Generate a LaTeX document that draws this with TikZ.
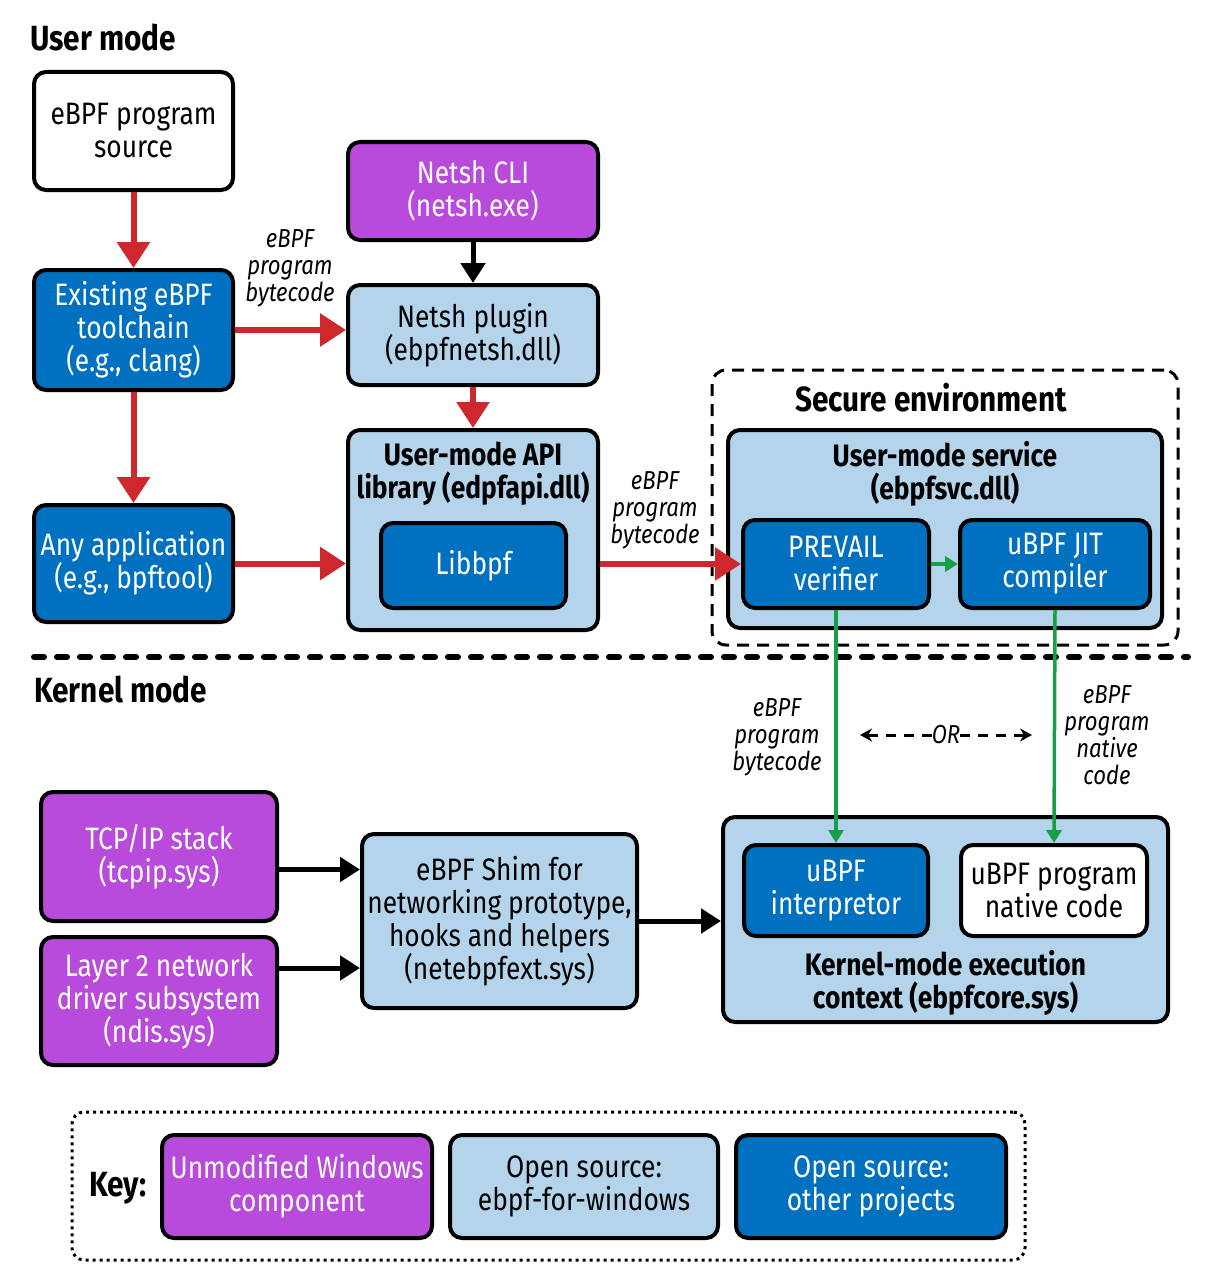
\documentclass[tikz,border=0pt]{standalone}
\usepackage{fontspec}
\setmainfont{Fira Sans}[FakeStretch=0.85]
\usetikzlibrary{arrows.meta}
\definecolor{winpurple}{RGB}{184,75,219}
\definecolor{osdark}{RGB}{0,112,192}
\definecolor{oslight}{RGB}{180,212,236}
\definecolor{flowred}{RGB}{206,40,46}
\definecolor{flowgreen}{RGB}{22,158,72}
\begin{document}
\begin{tikzpicture}[x=1pt,y=-1pt,
  box/.style={draw,line width=4pt,rounded corners=12pt,align=center,inner sep=0pt,font=\fontsize{31}{33}\selectfont},
  winbox/.style={box,fill=winpurple,text=white},
  lightbox/.style={box,fill=oslight},
  darkbox/.style={box,fill=osdark,text=white},
  plainbox/.style={box,fill=white},
  boxtitle/.style={align=center,inner sep=0pt,font=\bfseries\fontsize{31}{33}\selectfont},
  heading/.style={inner sep=0pt,font=\bfseries\fontsize{35}{37}\selectfont},
  flowlabel/.style={align=center,inner sep=0pt,font=\itshape\fontsize{26}{27}\selectfont},
  redarrow/.style={draw=flowred,line width=6pt,-{Triangle[length=26pt,width=32pt]}},
  blackarrow/.style={draw=black,line width=5pt,-{Triangle[length=20pt,width=24pt]}},
  greenarrow/.style={draw=flowgreen,line width=3.5pt,-{Triangle[length=13pt,width=15pt]}},
  orarrow/.style={draw=black,line width=3pt,dash pattern=on 10pt off 8pt,-{Stealth[length=12pt,width=13pt]}}
]
  \useasboundingbox (0,0) rectangle (1212,1287); %hele billedet
  \node[heading,anchor=west] (usermode) at (30,38) {User mode}; %overskrift
  \node[heading,anchor=west] (kernelmode) at (34,690) {Kernel mode}; %overskrift
  \draw[line width=6pt,dash pattern=on 10pt off 13pt,line cap=round] (34,657) -- (1188,657); %skillelinje

  % user mode
  \node[plainbox,minimum width=199pt,minimum height=118pt] (source) at (133.5,131) {eBPF program\\source};
  \node[darkbox,minimum width=199pt,minimum height=120pt] (toolchain) at (133.5,330) {Existing eBPF\\toolchain\\(e.g., clang)};
  \node[darkbox,minimum width=199pt,minimum height=117pt] (anyapp) at (133.5,563.5) {Any application\\(e.g., bpftool)};
  \node[winbox,minimum width=250pt,minimum height=98pt] (netshcli) at (473,191) {Netsh CLI\\(netsh.exe)};
  \node[lightbox,minimum width=250pt,minimum height=100pt] (netshplugin) at (473,335) {Netsh plugin\\(ebpfnetsh.dll)};
  \node[lightbox,minimum width=250pt,minimum height=200pt] (apilib) at (473,530) {};
  \node[boxtitle,anchor=north] (apititle) at ([yshift=-14pt]apilib.north) {User-mode API\\library (edpfapi.dll)};
  \node[darkbox,minimum width=185pt,minimum height=85pt] (libbpf) at (473.5,565.5) {Libbpf};

  % secure environment
  \node[draw,line width=3pt,dash pattern=on 12pt off 8pt,rounded corners=14pt,minimum width=466pt,minimum height=275pt,inner sep=0pt] (secure) at (945,507.5) {};
  \node[heading,anchor=north] (securetitle) at ([xshift=-14pt,yshift=-14pt]secure.north) {Secure environment};
  \node[lightbox,minimum width=434pt,minimum height=198pt] (svc) at (945,529) {};
  \node[boxtitle,anchor=north] (svctitle) at ([yshift=-13pt]svc.north) {User-mode service\\(ebpfsvc.dll)};
  \node[darkbox,minimum width=186pt,minimum height=88pt] (prevail) at (836,564) {PREVAIL\\verifier};
  \node[darkbox,minimum width=190pt,minimum height=88pt] (jit) at (1055,564) {uBPF JIT\\compiler};

  % kernel mode
  \node[winbox,minimum width=236pt,minimum height=129pt] (tcpip) at (159,856.5) {TCP/IP stack\\(tcpip.sys)};
  \node[winbox,minimum width=236pt,minimum height=128pt] (layer2) at (159,1001) {Layer 2 network\\driver subsystem\\(ndis.sys)};
  \node[lightbox,minimum width=275pt,minimum height=174pt] (shim) at (499.5,921) {eBPF Shim for\\networking prototype,\\hooks and helpers\\(netebpfext.sys)};
  \node[lightbox,minimum width=445pt,minimum height=205pt] (kexec) at (945.5,919.5) {};
  \node[boxtitle,anchor=south] (kexectitle) at ([yshift=8pt]kexec.south) {Kernel-mode execution\\context (ebpfcore.sys)};
  \node[darkbox,minimum width=184pt,minimum height=91pt] (interp) at (836,890.5) {uBPF\\interpretor};
  \node[plainbox,minimum width=186pt,minimum height=91pt] (native) at (1054,890.5) {uBPF program\\native code};

  % pile
  \draw[redarrow] (source) -- (toolchain); %kilde til toolchain
  \draw[redarrow] (toolchain) -- (anyapp); %toolchain til app
  \draw[redarrow] (toolchain.east) -- (toolchain.east -| netshplugin.west); %toolchain til plugin
  \node[flowlabel] (bcodea) at (290,268) {eBPF\\program\\bytecode};
  \draw[blackarrow] (netshcli) -- (netshplugin); %cli til plugin
  \draw[redarrow] (netshplugin) -- (apilib); %plugin til api
  \draw[redarrow] (anyapp.east) -- (anyapp.east -| apilib.west); %app til api
  \draw[redarrow] (prevail.west -| apilib.east) -- (prevail.west); %api til verifier
  \node[flowlabel] (bcodeb) at (655,510) {eBPF\\program\\bytecode};
  \draw[greenarrow] (prevail) -- (jit); %verifier til jit
  \draw[greenarrow] (prevail.south) -- (interp.north); %bytecode ned
  \draw[greenarrow] (jit.south) -- (native.north); %native kode ned
  \node[flowlabel] (bcodec) at (777,737) {eBPF\\program\\bytecode};
  \node[flowlabel] (ncode) at (1107,735) {eBPF\\program\\native\\code};
  \node[flowlabel] (ortext) at (946,735) {OR};
  \coordinate (orleft) at (860,735);
  \coordinate (orright) at (1032,735);
  \draw[orarrow] (ortext.west) -- (orleft); %eller venstre
  \draw[orarrow] (ortext.east) -- (orright); %eller hoejre
  \draw[blackarrow] ([yshift=-13pt]tcpip.east) -- ([yshift=-13pt]tcpip.east -| shim.west); %tcpip til shim
  \draw[blackarrow] ([yshift=33pt]layer2.east) -- ([yshift=33pt]layer2.east -| shim.west); %ndis til shim
  \draw[blackarrow] (shim.east) -- (shim.east -| kexec.west); %shim til kernel

  % key
  \node[draw,line width=3pt,dash pattern=on 3pt off 4pt,rounded corners=12pt,minimum width=953pt,minimum height=148pt,inner sep=0pt] (keybox) at (548.5,1186) {};
  \node[heading] (keytitle) at (118,1188) {Key:};
  \node[winbox,minimum width=270pt,minimum height=103pt] (keywin) at (297,1186.5) {Unmodified Windows\\component};
  \node[lightbox,minimum width=268pt,minimum height=103pt] (keylight) at (584,1186.5) {Open source:\\ebpf-for-windows};
  \node[darkbox,minimum width=270pt,minimum height=103pt] (keydark) at (871,1186.5) {Open source:\\other projects};
\end{tikzpicture}
\end{document}
